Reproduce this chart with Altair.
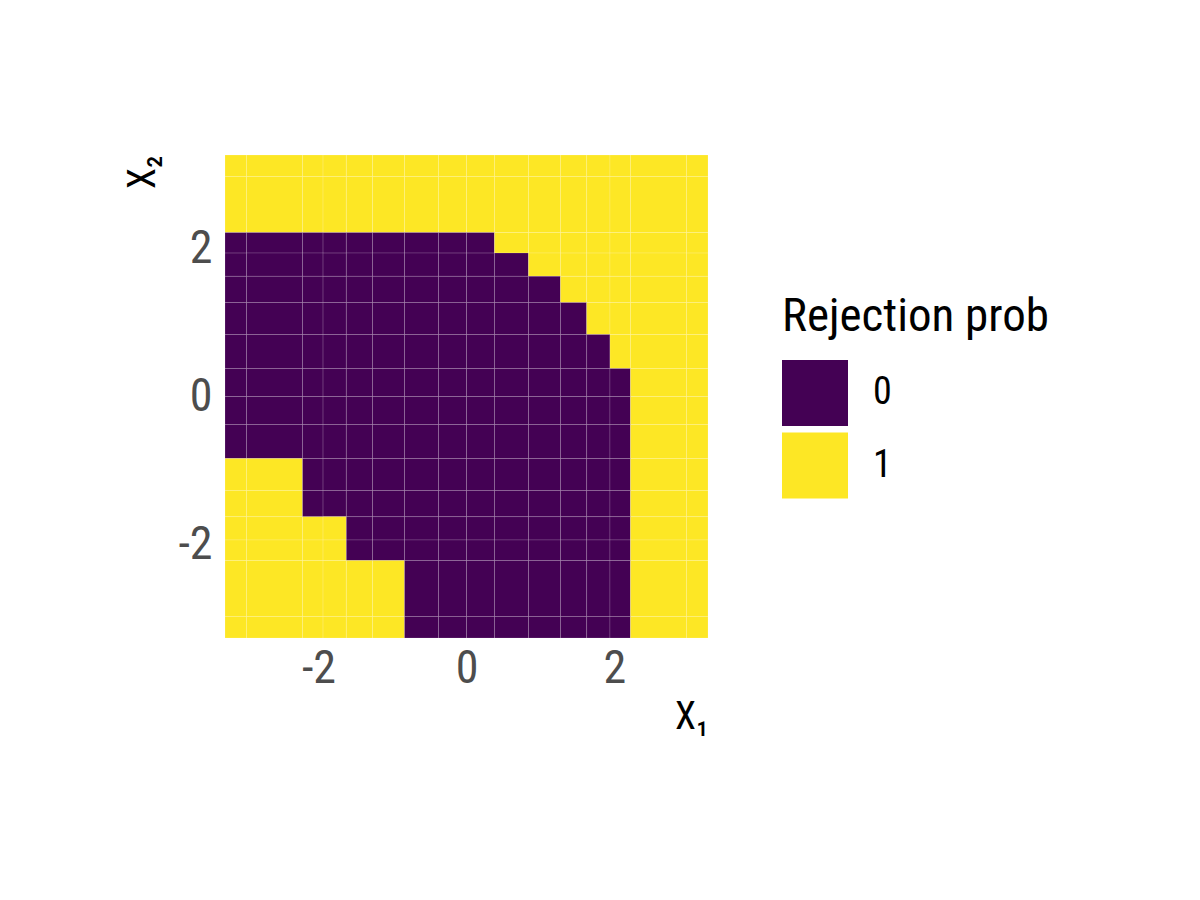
import altair as alt
import pandas as pd

# Tile edges (same on both axes)
x_edges = [-3.264, -2.973, -2.216, -1.939, -1.624, -1.270, -0.838, -0.378, 0.0,
           0.378, 0.838, 1.270, 1.624, 1.939, 2.216, 2.973, 3.264]
y_edges = [-3.264, -2.973, -2.216, -1.939, -1.624, -1.270, -0.838, -0.378, 0.0,
           0.378, 0.838, 1.270, 1.624, 1.939, 2.216, 2.973, 3.264]

# Rejection indicator, rows listed from top (highest X2) to bottom
row_top_1 = [1, 1, 1, 1, 1, 1, 1, 1, 1, 1, 1, 1, 1, 1, 1, 1]
row_top_2 = [1, 1, 1, 1, 1, 1, 1, 1, 1, 1, 1, 1, 1, 1, 1, 1]
row_3 = [0, 0, 0, 0, 0, 0, 0, 0, 0, 1, 1, 1, 1, 1, 1, 1]
row_4 = [0, 0, 0, 0, 0, 0, 0, 0, 0, 0, 1, 1, 1, 1, 1, 1]
row_5 = [0, 0, 0, 0, 0, 0, 0, 0, 0, 0, 0, 1, 1, 1, 1, 1]
row_6 = [0, 0, 0, 0, 0, 0, 0, 0, 0, 0, 0, 0, 1, 1, 1, 1]
row_7 = [0, 0, 0, 0, 0, 0, 0, 0, 0, 0, 0, 0, 0, 1, 1, 1]
row_8 = [0, 0, 0, 0, 0, 0, 0, 0, 0, 0, 0, 0, 0, 0, 1, 1]
row_9 = [0, 0, 0, 0, 0, 0, 0, 0, 0, 0, 0, 0, 0, 0, 1, 1]
row_10 = [0, 0, 0, 0, 0, 0, 0, 0, 0, 0, 0, 0, 0, 0, 1, 1]
row_11 = [1, 1, 0, 0, 0, 0, 0, 0, 0, 0, 0, 0, 0, 0, 1, 1]
row_12 = [1, 1, 0, 0, 0, 0, 0, 0, 0, 0, 0, 0, 0, 0, 1, 1]
row_13 = [1, 1, 1, 1, 0, 0, 0, 0, 0, 0, 0, 0, 0, 0, 1, 1]
row_14 = [1, 1, 1, 1, 0, 0, 0, 0, 0, 0, 0, 0, 0, 0, 1, 1]
row_15 = [1, 1, 1, 1, 1, 1, 0, 0, 0, 0, 0, 0, 0, 0, 1, 1]
row_16 = [1, 1, 1, 1, 1, 1, 0, 0, 0, 0, 0, 0, 0, 0, 1, 1]

rows_top_down = [row_top_1, row_top_2, row_3, row_4, row_5, row_6, row_7, row_8,
                 row_9, row_10, row_11, row_12, row_13, row_14, row_15, row_16]

tick_values = [-2, 0, 2]

records = []
n = len(y_edges) - 1
for r, row in enumerate(rows_top_down):
    j = n - 1 - r  # y interval index from the bottom
    for i, v in enumerate(row):
        records.append({
            "x": x_edges[i], "x2": x_edges[i + 1],
            "y": y_edges[j], "y2": y_edges[j + 1],
            "prob": str(v),
        })
df = pd.DataFrame(records)

FONT = "Roboto Condensed, Roboto"
dom = [x_edges[0], x_edges[-1]]

chart = alt.Chart(df).mark_rect(
    stroke="white", strokeWidth=0.6, strokeOpacity=0.25
).encode(
    x=alt.X("x:Q", scale=alt.Scale(domain=dom, nice=False, zero=False),
            axis=alt.Axis(values=tick_values, title="X₁", labelFontSize=46,
                          labelExpr="datum.value", labelFont=FONT,
                          labelColor="#4D4D4D",
                          labelPadding=8, titleAnchor="end", titleAlign="right",
                          titleFontSize=38, titleFont=FONT, titleColor="black",
                          titleFontWeight="normal", domain=False, ticks=False,
                          grid=False,
                          titleBaseline="alphabetic", titleX=483, titleY=90)),
    x2="x2:Q",
    y=alt.Y("y:Q", scale=alt.Scale(domain=dom, nice=False, zero=False),
            axis=alt.Axis(values=tick_values, title="X₂", labelFontSize=46,
                          labelExpr="datum.value", labelFont=FONT,
                          labelColor="#4D4D4D",
                          labelPadding=13, titleAngle=-90, titleAlign="right",
                          titleFontSize=38, titleFont=FONT, titleColor="black",
                          titleFontWeight="normal", domain=False, ticks=False,
                          grid=False,
                          titleBaseline="alphabetic", titleX=-71, titleY=0)),
    y2="y2:Q",
    color=alt.Color("prob:N", title="Rejection prob",
                    scale=alt.Scale(domain=["0", "1"], range=["#440154", "#FDE725"]),
                    legend=alt.Legend(orient="none", legendX=557, legendY=139,
                                      titleFontSize=47, labelFontSize=38,
                                      titleFont=FONT, labelFont=FONT,
                                      titleLimit=0, labelLimit=0,
                                      symbolType="square", symbolSize=4356,
                                      symbolStrokeWidth=0, rowPadding=6.5,
                                      labelOffset=25, titlePadding=19, padding=0,
                                      titleFontWeight="normal", titleColor="black",
                                      labelColor="black", titleBaseline="top",
                                      titleAnchor="start")),
).properties(
    width=483, height=483, background="white",
    padding={"left": 217, "top": 147, "right": 484, "bottom": 254},
    autosize=alt.AutoSizeParams(type="none"),
).configure_view(stroke=None)

chart.save("out.html", embed_options={"renderer": "svg", "actions": False})
